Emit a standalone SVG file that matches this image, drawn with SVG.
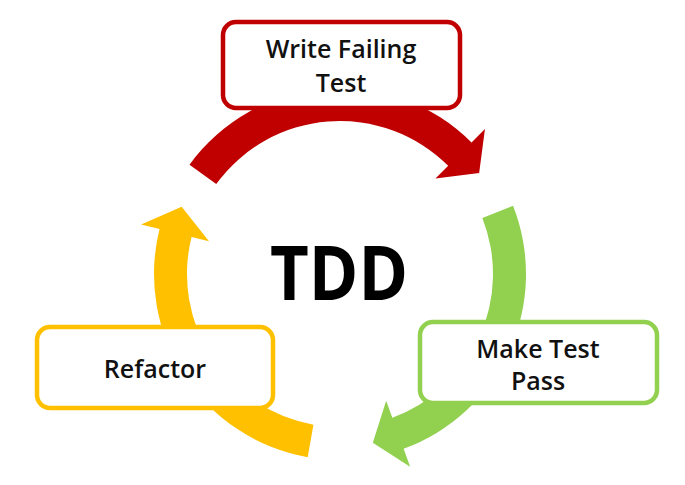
<svg xmlns="http://www.w3.org/2000/svg" width="685" height="485" viewBox="0 0 685 485">
<style>
.box{fill:#fff;stroke-width:4.5}
.lbl{font-family:"Open Sans","Liberation Sans",sans-serif;font-weight:600;font-size:25px;fill:#111;text-anchor:middle}
.title{font-family:"Open Sans","Liberation Sans",sans-serif;font-weight:700;font-size:75px;fill:#000;text-anchor:middle}
</style>
<rect width="685" height="485" fill="#fff"/>
<g id="connectors">
<path id="arrow-red" fill="#C00000" d="M189.52,164.67 A186,186 0 0 1 471.52,142.48 L484.96,129.04 L479.15,172.90 L435.46,178.54 L448.19,165.81 A153,153 0 0 0 216.22,184.07 Z"/>
<path id="arrow-green" fill="#92D050" d="M513.06,205.83 A186,186 0 0 1 403.62,448.78 L410.11,466.64 L372.82,442.84 L386.17,400.86 L392.33,417.77 A153,153 0 0 0 482.35,217.93 Z"/>
<path id="arrow-yellow" fill="#FFC000" d="M307.70,457.17 A186,186 0 0 1 159.52,229.00 L141.09,224.41 L181.67,206.79 L209.01,241.34 L191.54,236.99 A153,153 0 0 0 313.43,424.68 Z"/>
</g>
<g id="node-write">
<rect class="box" x="223" y="22" width="237" height="86" rx="13" stroke="#C00000"/>
<text class="lbl" x="341" y="58">Write Failing</text>
<text class="lbl" x="341" y="92">Test</text>
</g>
<g id="node-pass">
<rect class="box" x="420" y="322" width="237" height="81" rx="13" stroke="#92D050"/>
<text class="lbl" x="538" y="358">Make Test</text>
<text class="lbl" x="538" y="390">Pass</text>
</g>
<g id="node-refactor">
<rect class="box" x="37" y="327" width="236" height="81" rx="13" stroke="#FFC000"/>
<text class="lbl" x="155" y="378">Refactor</text>
</g>
<g id="title">
<text class="title" x="339" y="300" textLength="138" lengthAdjust="spacingAndGlyphs">TDD</text>
</g>
</svg>
